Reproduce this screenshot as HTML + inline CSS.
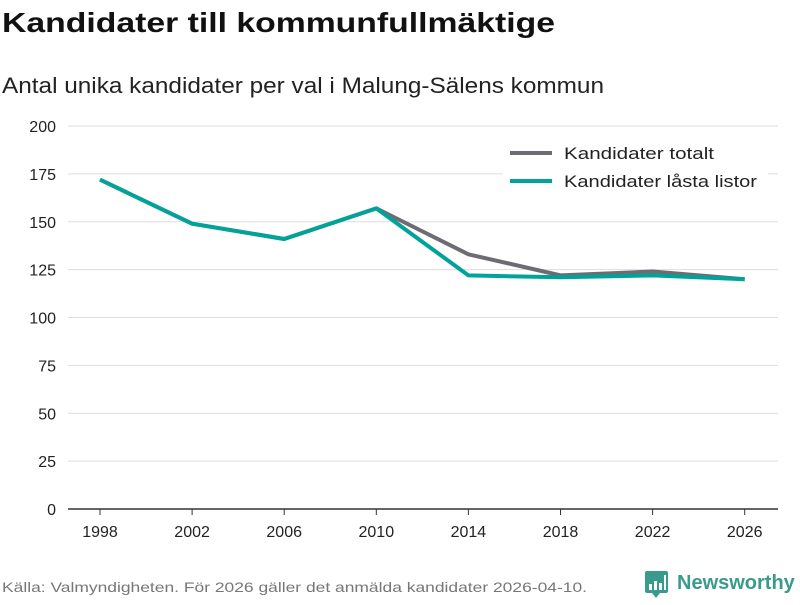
<!DOCTYPE html>
<html><head><meta charset="utf-8"><style>
body{margin:0;background:#fff;font-family:"Liberation Sans","DejaVu Sans",sans-serif;}
svg text{font-family:"Liberation Sans","DejaVu Sans",sans-serif;}
</style></head><body>
<svg id="chart" width="800" height="600" xmlns="http://www.w3.org/2000/svg">
<text x="2" y="32" font-size="28" font-weight="bold" fill="#111" textLength="553" lengthAdjust="spacingAndGlyphs">Kandidater till kommunfullmäktige</text>
<text x="2" y="93" font-size="22" fill="#222" textLength="602" lengthAdjust="spacingAndGlyphs">Antal unika kandidater per val i Malung-Sälens kommun</text>
<g id="grid"></g><g id="xaxis"></g><g id="lines"></g>
<g>
<rect x="503" y="140" width="265" height="56" fill="#fff"/>
<line x1="510" y1="153" x2="552" y2="153" stroke="#6e6c72" stroke-width="4"/>
<text x="564" y="159" font-size="17" fill="#222" textLength="150" lengthAdjust="spacingAndGlyphs">Kandidater totalt</text>
<line x1="510" y1="181" x2="552" y2="181" stroke="#00a39a" stroke-width="4"/>
<text x="564" y="187" font-size="17" fill="#222" textLength="193" lengthAdjust="spacingAndGlyphs">Kandidater låsta listor</text>
</g>
<text x="2" y="592" font-size="14" fill="#777" textLength="585" lengthAdjust="spacingAndGlyphs">Källa: Valmyndigheten. För 2026 gäller det anmälda kandidater 2026-04-10.</text>
<g>
<rect x="645" y="571" width="23" height="22" rx="2" fill="#3a9a8c"/>
<polygon points="652,593 660,593 656,598" fill="#3a9a8c"/>
<rect x="649" y="584" width="3" height="6" fill="#fff"/><rect x="654" y="581" width="3" height="9" fill="#fff"/><rect x="659" y="583" width="3" height="7" fill="#fff"/><rect x="664" y="575" width="2" height="15" fill="#fff"/>
<text x="677" y="589" font-size="20" font-weight="bold" fill="#3a9a8c">Newsworthy</text>
</g>
</svg>
<script>
const years=["1998","2002","2006","2010","2014","2018","2022","2026"];
const totalt=[172,149,141,157,133,122,124,120];
const lasta=[172,149,141,157,122,121,122,120];
const yTicks=[0,25,50,75,100,125,150,175,200];
const NS="http://www.w3.org/2000/svg";
const x=i=>100+i*92.1;
const y=v=>509-v*(383/200);
const grid=document.getElementById('grid');
yTicks.forEach(t=>{
 const l=document.createElementNS(NS,'line');
 l.setAttribute('x1',68);l.setAttribute('x2',778);l.setAttribute('y1',y(t));l.setAttribute('y2',y(t));
 l.setAttribute('stroke',t===0?'#333':'#ddd');l.setAttribute('stroke-width',t===0?1.5:1);
 
 
 grid.appendChild(l);
 const tx=document.createElementNS(NS,'text');
 tx.setAttribute('x',56);tx.setAttribute('y',y(t)+6);tx.setAttribute('text-anchor','end');tx.setAttribute('font-size','16');tx.setAttribute('fill','#222');
 tx.textContent=t;
 
 
 grid.appendChild(tx);
});
const xa=document.getElementById('xaxis');
years.forEach((yr,i)=>{
 const l=document.createElementNS(NS,'line');
 l.setAttribute('x1',x(i));l.setAttribute('x2',x(i));l.setAttribute('y1',509);l.setAttribute('y2',515);l.setAttribute('stroke','#333');
 
 
 xa.appendChild(l);
 const tx=document.createElementNS(NS,'text');
 tx.setAttribute('x',x(i));tx.setAttribute('y',537);tx.setAttribute('text-anchor','middle');tx.setAttribute('font-size','16');tx.setAttribute('fill','#222');
 tx.textContent=yr;
 
 
 xa.appendChild(tx);
});
const lines=document.getElementById('lines');
[[totalt,'#6e6c72','line-kandidater-totalt'],[lasta,'#00a39a','line-kandidater-lasta-listor']].forEach(([d,c,n])=>{
 const p=document.createElementNS(NS,'polyline');
 p.setAttribute('points',d.map((v,i)=>x(i)+','+y(v)).join(' '));
 p.setAttribute('fill','none');p.setAttribute('stroke',c);p.setAttribute('stroke-width',4);p.setAttribute('stroke-linejoin','round');
 
 
 lines.appendChild(p);
});
</script>
</body></html>
